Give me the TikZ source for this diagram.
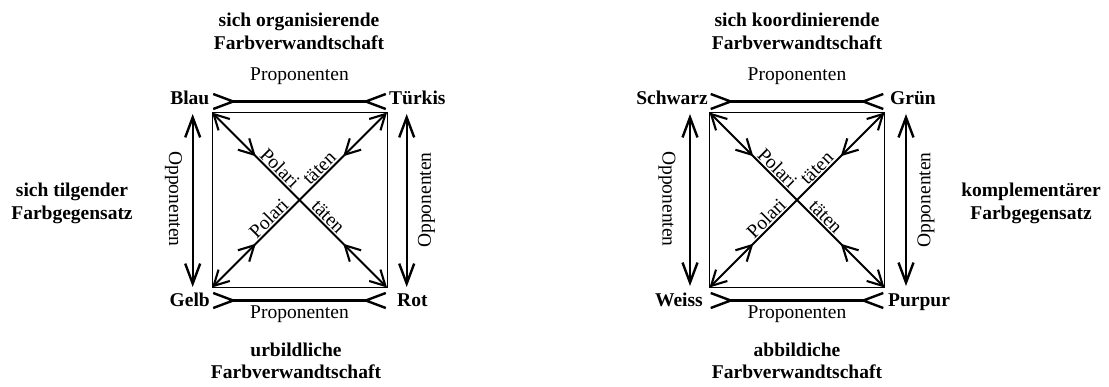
\documentclass[tikz,border=0pt]{standalone}
\usepackage{fontspec}
\setmainfont{Liberation Serif}
\usetikzlibrary{arrows.meta,decorations.markings}

\tikzset{
  every node/.style={inner sep=0pt},
  lbl/.style={font=\fontsize{19.5}{22.5}\selectfont},
  corner/.style={font=\fontsize{19.5}{22.5}\selectfont\bfseries},
  title/.style={align=center,font=\fontsize{19.5}{22.5}\selectfont\bfseries},
  pol/.style={lbl,sloped,above=2pt},
  frame/.style={line width=0.9pt},
  barb/.tip={Straight Barb[length=20pt,width=15pt]},
  dbarb/.tip={Straight Barb[length=15pt,width=16pt]},
  pro/.style={line width=2.4pt,{barb[reversed]}-{barb[reversed]}},
  opp/.style={line width=2.4pt,barb-barb},
  diag/.style={line width=2.1pt,dbarb-dbarb,
    postaction={decorate},
    decoration={markings,
      mark=at position 0.25 with {\arrow{dbarb}},
      mark=at position 0.75 with {\arrowreversed{dbarb}}}},
}

\newcommand\Quadrat[2]{%
  \coordinate (#1tl) at ({#2-87.5},112.5);
  \coordinate (#1tr) at ({#2+87.5},112.5);
  \coordinate (#1bl) at ({#2-87.5},287.5);
  \coordinate (#1br) at ({#2+87.5},287.5);
  \coordinate (#1c) at (#2,200);
  \draw[frame] (#1tl) rectangle (#1br);
  \draw[diag] (#1tl) -- (#1br);
  \draw[diag] (#1bl) -- (#1tr);
  \path (#1tl) -- (#1c) node[pol,pos=0.705] (#1p1) {Polari};
  \path (#1c) -- (#1tr) node[pol,pos=0.295] (#1p2) {täten};
  \path (#1bl) -- (#1c) node[pol,pos=0.72] (#1p3) {Polari};
  \path (#1c) -- (#1br) node[pol,pos=0.26] (#1p4) {täten};
  \coordinate (#1pa) at ({#2-87.5},101.5);
  \coordinate (#1pb) at ({#2+87.5},101.5);
  \coordinate (#1pc) at ({#2-87.5},300.5);
  \coordinate (#1pd) at ({#2+87.5},300.5);
  \draw[pro] (#1pa) -- (#1pb);
  \draw[pro] (#1pc) -- (#1pd);
  \node[lbl,anchor=base] (#1prtop) at (#2,81) {Proponenten};
  \node[lbl,anchor=base] (#1prbot) at (#2,319) {Proponenten};
}

\begin{document}
\begin{tikzpicture}[x=1pt,y=-1pt]
\useasboundingbox (0,0) rectangle (1109,387);

% ---------- left square ----------
\Quadrat{L}{299.5}
\coordinate (Loa) at (192.7,114);
\coordinate (Lob) at (192.7,287);
\coordinate (Loc) at (406.7,114);
\coordinate (Lod) at (406.7,287);
\draw[opp] (Loa) -- (Lob);
\draw[opp] (Loc) -- (Lod);
\node[lbl,rotate=-90] (Lopl) at (173.5,199) {Opponenten};
\node[lbl,rotate=90] (Lopr) at (426.5,200) {Opponenten};
\node[corner,anchor=base east] (blau) at (209.5,105) {Blau};
\node[corner,anchor=base west] (tuerkis) at (389,105) {Türkis};
\node[corner,anchor=base east] (gelb) at (210,306.5) {Gelb};
\node[corner,anchor=base west] (rot) at (397,306.5) {Rot};
\node[title] (Ltop) at (299,31.3) {sich organisierende\\Farbverwandtschaft};
\node[title] (Lbot) at (296,361) {urbildliche\\Farbverwandtschaft};
\node[title] (Lside) at (72,203.3) {sich tilgender\\Farbgegensatz};

% ---------- right square ----------
\Quadrat{R}{797}
\coordinate (Roa) at (690,114);
\coordinate (Rob) at (690,286);
\coordinate (Roc) at (906,114);
\coordinate (Rod) at (906,286);
\draw[opp] (Roa) -- (Rob);
\draw[opp] (Roc) -- (Rod);
\node[lbl,rotate=-90] (Ropl) at (667,199) {Opponenten};
\node[lbl,rotate=90] (Ropr) at (926,200) {Opponenten};
\node[corner,anchor=base east] (schwarz) at (708,105) {Schwarz};
\node[corner,anchor=base west] (gruen) at (890,105) {Grün};
\node[corner,anchor=base east] (weiss) at (703,306.5) {Weiss};
\node[corner,anchor=base west] (purpur) at (888,306.5) {Purpur};
\node[title] (Rtop) at (797,31.3) {sich koordinierende\\Farbverwandtschaft};
\node[title] (Rbot) at (797,361) {abbildiche\\Farbverwandtschaft};
\node[title] (Rside) at (1031,203.3) {komplementärer\\Farbgegensatz};
\end{tikzpicture}
\end{document}
